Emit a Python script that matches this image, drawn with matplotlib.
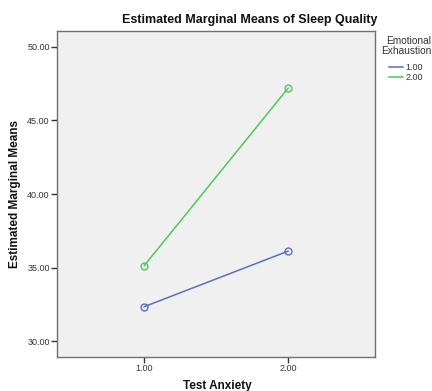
import matplotlib
matplotlib.use("Agg")
import matplotlib.pyplot as plt
from matplotlib.lines import Line2D

plt.rcParams['font.family'] = ['Liberation Sans', 'DejaVu Sans']

test_anxiety = [1.0, 2.0]
x_tick_labels = ["1.00", "2.00"]
y_ticks = [30, 35, 40, 45, 50]
y_tick_labels = ["30.00", "35.00", "40.00", "45.00", "50.00"]
groups = ["1.00", "2.00"]
means_group1 = [32.35, 36.12]
means_group2 = [35.14, 47.19]
colors = ["#5a6ec4", "#4cc95a"]

fig = plt.figure(figsize=(4.32, 3.91), dpi=100)
W, H = 432, 391
left, right, top, bottom = 57.3, 375.3, 30.7, 356.7
ax = fig.add_axes([left / W, 1 - bottom / H, (right - left) / W, (bottom - top) / H])
ax.set_facecolor("#f0f0f0")

for vals, c in zip([means_group1, means_group2], colors):
    ax.plot(test_anxiety, vals, color=c, lw=1.1, marker='o', ms=5,
            mfc='none', mec=c, mew=1.0)

ax.set_xlim(0.395, 2.607)
ax.set_ylim(28.95, 51.1)
ax.set_xticks(test_anxiety)
ax.set_xticklabels(x_tick_labels)
ax.set_yticks(y_ticks)
ax.set_yticklabels(y_tick_labels)
ax.tick_params(axis='both', labelsize=6.5, labelcolor="#333333", color="#333333",
               length=4, width=1.0, pad=1.5)
for s in ax.spines.values():
    s.set_color("#707070")
    s.set_linewidth(1.0)

fig.text(250 / W, 1 - 20 / H, "Estimated Marginal Means of Sleep Quality",
         ha='center', va='center', fontsize=9, fontweight='bold', color="#111111")
fig.text(15 / W, 1 - 194 / H, "Estimated Marginal Means", rotation=90,
         ha='center', va='center', fontsize=8.5, fontweight='bold', color="#111111")
fig.text(217 / W, 1 - 386 / H, "Test Anxiety", ha='center', va='center',
         fontsize=8.5, fontweight='bold', color="#111111")

fig.text(409 / W, 1 - 41 / H, "Emotional", ha='center', va='center', fontsize=7.3, color="#333333")
fig.text(431 / W, 1 - 51 / H, "Exhaustion", ha='right', va='center', fontsize=7.3, color="#333333")
handles = [Line2D([0], [0], color=c, lw=1.1) for c in colors]
fig.legend(handles, groups, loc='upper left', bbox_to_anchor=(389 / W, 1 - 63 / H),
           frameon=False, fontsize=6.5, handlelength=1.6, handletextpad=0.2,
           labelspacing=0.15, borderpad=0, borderaxespad=0, labelcolor="#333333")

fig.savefig("out.png", dpi=100)
